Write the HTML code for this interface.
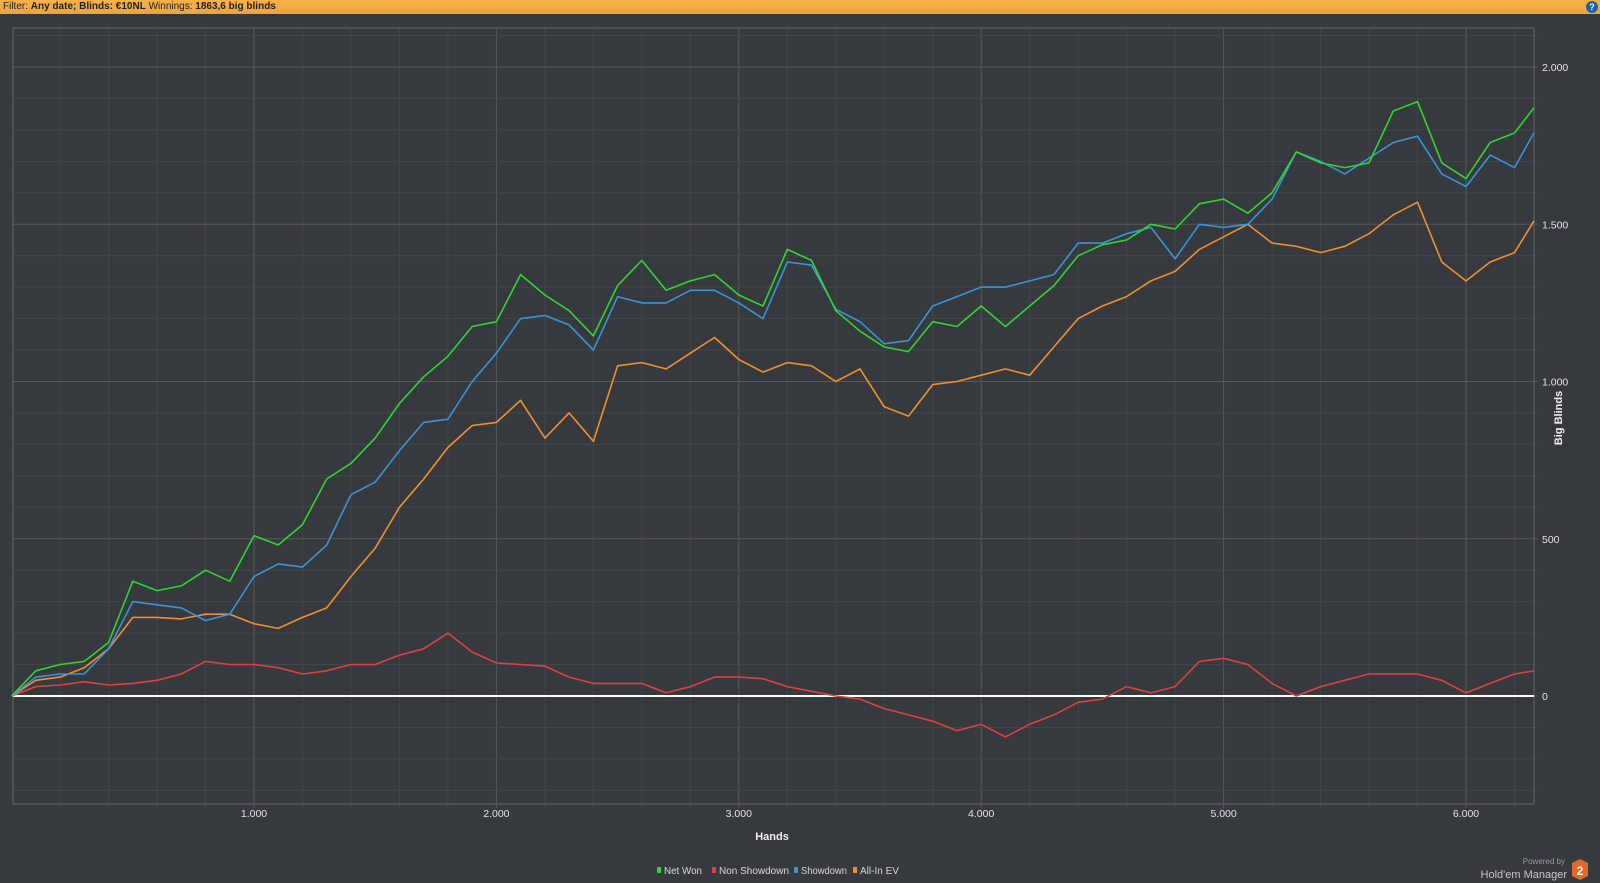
<!DOCTYPE html>
<html><head><meta charset="utf-8">
<style>
html,body{margin:0;padding:0;background:#36393d;width:1600px;height:883px;overflow:hidden;font-family:"Liberation Sans",sans-serif;}
#topbar{position:absolute;left:0;top:0;width:1600px;height:14px;background:linear-gradient(#f6b24c,#eea43e);font-size:10px;line-height:14px;color:#222;}
#topbar span{padding-left:3px}
#help{position:absolute;left:1586px;top:1px;width:12px;height:12px;border-radius:50%;background:#1c62a8;color:#fff;font-size:9px;font-weight:bold;text-align:center;line-height:12px}
svg{position:absolute;left:0;top:0}
</style></head><body>
<div id="topbar"><span>Filter: <b>Any date; Blinds: €10NL</b> Winnings: <b>1863,6 big blinds</b></span></div>
<div id="help">?</div>
<svg id="chart" width="1600" height="883"></svg>
<script>
const hands=[0,100,200,300,400,500,600,700,800,900,1000,1100,1200,1300,1400,1500,1600,1700,1800,1900,2000,2100,2200,2300,2400,2500,2600,2700,2800,2900,3000,3100,3200,3300,3400,3500,3600,3700,3800,3900,4000,4100,4200,4300,4400,4500,4600,4700,4800,4900,5000,5100,5200,5300,5400,5500,5600,5700,5800,5900,6000,6100,6200,6280];
const netWon=[0,80,100,110,170,365,335,350,400,365,510,480,545,690,740,820,930,1015,1080,1175,1190,1340,1275,1225,1145,1305,1385,1290,1320,1340,1275,1240,1420,1385,1225,1160,1110,1095,1190,1175,1240,1175,1240,1305,1400,1435,1450,1500,1485,1565,1580,1535,1600,1730,1695,1680,1695,1860,1890,1695,1645,1760,1790,1870];
const showdown=[0,60,70,70,150,300,290,280,240,260,380,420,410,480,640,680,780,870,880,1000,1090,1200,1210,1180,1100,1270,1250,1250,1290,1290,1250,1200,1380,1370,1230,1190,1120,1130,1240,1270,1300,1300,1320,1340,1440,1440,1470,1490,1390,1500,1490,1500,1580,1730,1700,1660,1710,1760,1780,1660,1620,1720,1680,1790];
const allInEV=[0,50,60,90,150,250,250,245,260,260,230,215,250,280,380,470,600,690,790,860,870,940,820,900,810,1050,1060,1040,1090,1140,1070,1030,1060,1050,1000,1040,920,890,990,1000,1020,1040,1020,1110,1200,1240,1270,1320,1350,1420,1460,1500,1440,1430,1410,1430,1470,1530,1570,1380,1320,1380,1410,1510];
const nonShowdown=[0,30,35,45,35,40,50,70,110,100,100,90,70,80,100,100,130,150,200,140,105,100,95,60,40,40,40,10,30,60,60,55,30,15,0,-10,-40,-60,-80,-110,-90,-130,-90,-60,-20,-10,30,10,30,110,120,100,40,0,30,50,70,70,70,50,10,40,70,80];
const xTicks=[1000,2000,3000,4000,5000,6000];
const xTickLabels=["1.000","2.000","3.000","4.000","5.000","6.000"];
const yTicks=[0,500,1000,1500,2000];
const yTickLabels=["0","500","1.000","1.500","2.000"];

const L=13,R=1534,T=28,B=804;
const X=h=>11.6+h*0.2424;
const Y=v=>696-v*0.3145;
const svg=document.getElementById('chart');
const NS='http://www.w3.org/2000/svg';
function mk(tag,attrs,parent){const e=document.createElementNS(NS,tag);for(const k in attrs)e.setAttribute(k,attrs[k]);(parent||svg).appendChild(e);return e;}

for(let h=200;h<6300;h+=200){const x=X(h);if(x>R)break;
 const g=mk('line',{x1:x,y1:T,x2:x,y2:B+4,stroke:h%1000===0?'#56595d':'#424549','stroke-width':1});
 
 }
for(let v=-300;v<=2100;v+=100){const y=Y(v);
 const g=mk('line',{x1:L,y1:y,x2:R+4,y2:y,stroke:v%500===0?'#56595d':'#424549','stroke-width':1});
 
 }
const frame=mk('rect',{x:L,y:T,width:R-L,height:B-T,fill:'none',stroke:'#55585c','stroke-width':1.5});



xTicks.forEach((h,i)=>{const t=mk('text',{x:X(h),y:817,fill:'#e4e4e4','font-size':10.5,'text-anchor':'middle'});t.textContent=xTickLabels[i];
 
 });
yTicks.forEach((v,i)=>{const t=mk('text',{x:1542,y:Y(v)+4,fill:'#e4e4e4','font-size':10.5});t.textContent=yTickLabels[i];
 
 });

const z=mk('line',{x1:L,y1:Y(0),x2:R,y2:Y(0),stroke:'#ffffff','stroke-width':2});



function series(arr,color,name){
 const d=arr.map((v,i)=>(i?'L':'M')+X(hands[i]).toFixed(1)+','+Y(v).toFixed(1)).join('');
 const p=mk('path',{d:d,fill:'none',stroke:color,'stroke-width':1.6,'stroke-linejoin':'round'});
 
 
}
series(nonShowdown,'#e0403f','non-showdown-line');
series(allInEV,'#f0902e','all-in-ev-line');
series(showdown,'#3a94d8','showdown-line');
series(netWon,'#2fd62f','net-won-line');

const xt=mk('text',{x:772,y:840,fill:'#f0f0f0','font-size':11,'font-weight':'bold','text-anchor':'middle'});xt.textContent='Hands';


const yt=mk('text',{x:1562,y:418,fill:'#f0f0f0','font-size':11,'font-weight':'bold','text-anchor':'middle',transform:'rotate(-90 1562 418)'});yt.textContent='Big Blinds';



const leg=[['Net Won','#2fd62f',657,38],['Non Showdown','#e0403f',712,70],['Showdown','#3a94d8',794,46],['All-In EV','#f0902e',853,39]];
leg.forEach(l=>{
 const g=mk('g',{});
 
 
 mk('rect',{x:l[2],y:867,width:4,height:6,fill:l[1]},g);
 const t=mk('text',{x:l[2]+7,y:874,fill:'#d8d8d8','font-size':10,textLength:l[3],lengthAdjust:'spacingAndGlyphs'},g);t.textContent=l[0];
});

const lg=mk('g',{});


const p1=mk('text',{x:1565,y:864,fill:'#9a9a9a','font-size':8,'text-anchor':'end'},lg);p1.textContent='Powered by';
const p2=mk('text',{x:1567,y:878,fill:'#c8c8c8','font-size':11,'text-anchor':'end'},lg);p2.textContent="Hold'em Manager";
mk('polygon',{points:'1580,859 1588,863 1588,876 1580,880 1572,876 1572,863',fill:'#e06a2a'},lg);
const p3=mk('text',{x:1580,y:875,fill:'#fff','font-size':12,'font-weight':'bold','text-anchor':'middle'},lg);p3.textContent='2';
</script>
</body></html>
